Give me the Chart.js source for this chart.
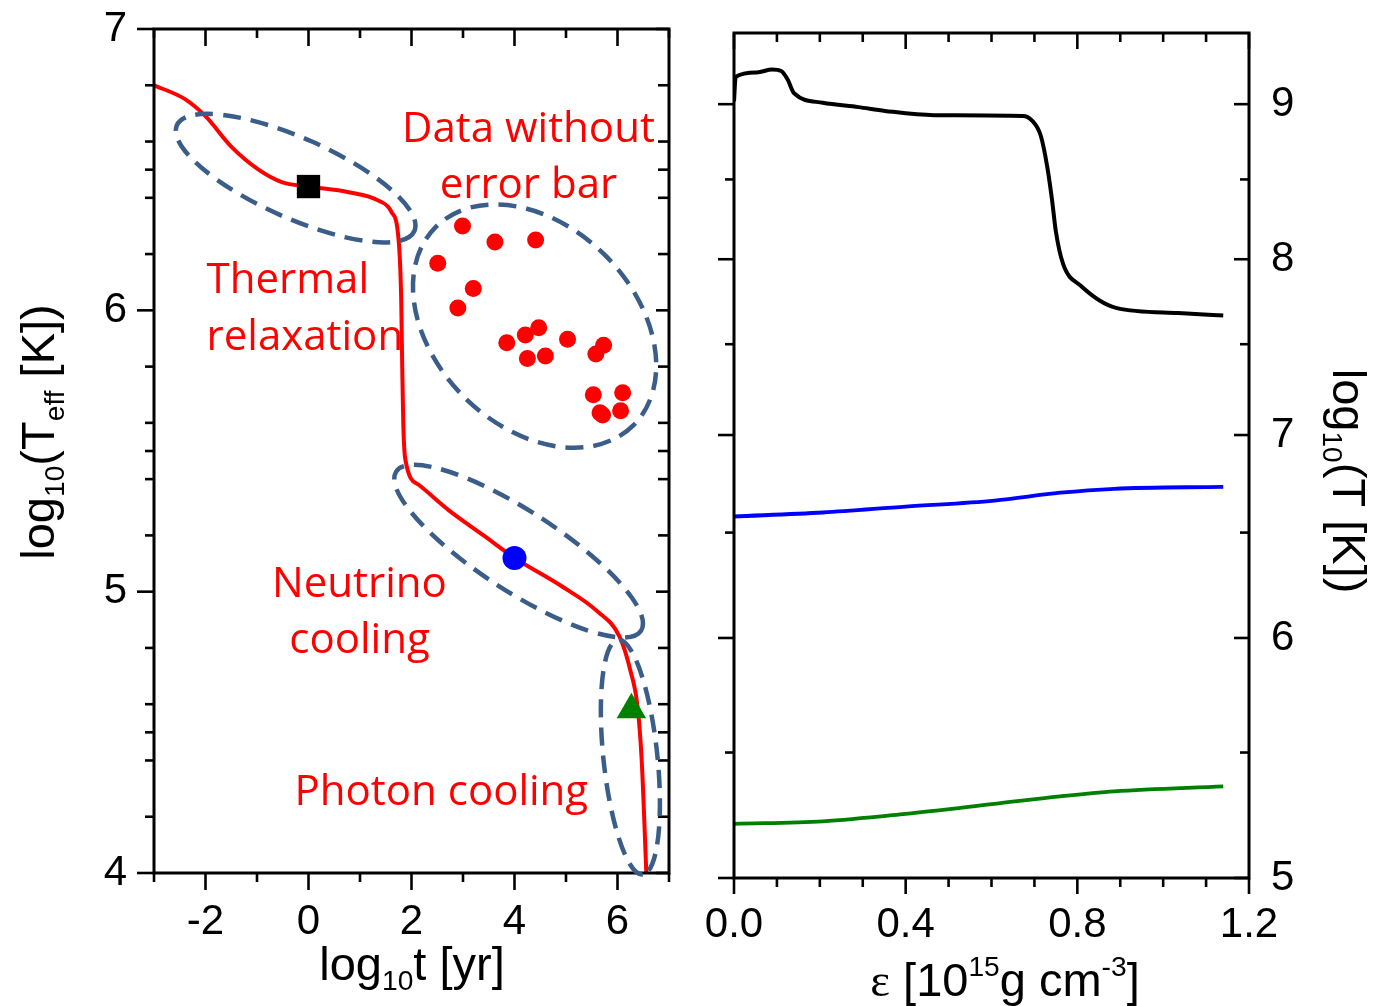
<!DOCTYPE html>
<html>
<head>
<meta charset="utf-8">
<script src="https://cdn.jsdelivr.net/npm/chart.js@4.4.1/dist/chart.umd.min.js"></script>
<style>
  html, body { margin: 0; padding: 0; background: #fff; }
  #wrap { position: relative; width: 1378px; height: 1006px; }
  canvas { position: absolute; top: 0; }
  #coolChart { left: 0; }
  #tempChart { left: 690px; }
</style>
</head>
<body>
<div id="wrap">
  <canvas id="coolChart" width="690" height="1006"></canvas>
  <canvas id="tempChart" width="688" height="1006"></canvas>
</div>
<script>
// ---------- left panel: cooling curve ----------
const curveLogT    = [-3.0, -2.39, -2.0, -1.49, -0.97, -0.52, 0.0, 0.78, 1.36, 1.61, 1.75, 1.80, 1.82, 1.84, 1.88, 2.14, 2.72, 3.4, 4.0, 4.91, 5.61, 6.04, 6.25, 6.39, 6.47, 6.56];
const curveLogTeff = [6.80, 6.75, 6.69, 6.58, 6.50, 6.456, 6.44, 6.42, 6.39, 6.35, 6.25, 6.04, 5.80, 5.60, 5.47, 5.38, 5.29, 5.20, 5.12, 5.02, 4.93, 4.84, 4.72, 4.59, 4.40, 4.00];

// observed stars (no error bars)
const obsLogT    = [2.99, 3.62, 4.41, 2.51, 3.20, 2.90, 3.85, 4.21, 4.47, 4.25, 4.60, 5.03, 5.73, 5.58, 5.53, 6.10, 5.71, 6.06, 5.66];
const obsLogTeff = [6.30, 6.243, 6.25, 6.167, 6.078, 6.008, 5.885, 5.912, 5.938, 5.829, 5.838, 5.897, 5.876, 5.845, 5.70, 5.707, 5.628, 5.643, 5.636];

// stage markers: square, circle, triangle
const markLogT    = [0.0, 4.0, 6.27];
const markLogTeff = [6.44, 5.12, 4.58];

const leftXTicks  = [-2, 0, 2, 4, 6];
const leftXMinor  = [-3, -1, 1, 3, 5, 7];
const leftYTicks  = [4, 5, 6, 7];
const leftYMinor  = [4.2, 4.4, 4.5, 4.6, 4.8, 5.2, 5.4, 5.5, 5.6, 5.8, 6.2, 6.4, 6.5, 6.6, 6.8];

// ---------- right panel: temperature profiles ----------
const epsBlack = [0.0, 0.004, 0.053, 0.089, 0.11, 0.125, 0.14, 0.207, 0.29, 0.352, 0.466, 0.673, 0.694, 0.715, 0.73, 0.741, 0.75, 0.767, 0.808, 0.89, 1.035, 1.14];
const tBlack   = [9.02, 9.19, 9.22, 9.24, 9.23, 9.17, 9.075, 9.01, 8.98, 8.954, 8.925, 8.92, 8.89, 8.785, 8.58, 8.37, 8.17, 7.97, 7.84, 7.71, 7.68, 7.665];
const epsBlue  = [0.0, 0.207, 0.4, 0.607, 0.76, 0.886, 1.14];
const tBlue    = [6.58, 6.60, 6.63, 6.66, 6.70, 6.72, 6.73];
const epsGreen = [0.0, 0.207, 0.4, 0.607, 0.76, 0.886, 1.14];
const tGreen   = [5.21, 5.22, 5.25, 5.29, 5.32, 5.34, 5.36];

const rightXTicks = [0, 0.4, 0.8, 1.2];
const rightXMinor = [0.1, 0.2, 0.3, 0.5, 0.6, 0.7, 0.9, 1.0, 1.1];
const rightYTicks = [5, 6, 7, 8, 9];
const rightYMinor = [5.5, 6.5, 7.5, 8.5];

const AXIS_FONT = "'Liberation Sans', Arial, sans-serif";
const NOTE_FONT = "'Open Sans', sans-serif";
const ELLIPSE_COLOR = "#3b5d8a";

const zip = (xs, ys) => xs.map((x, i) => ({ x, y: ys[i] }));

// label overflow must not push the plot area around
const noPad = s => { s.paddingTop = s.paddingBottom = s.paddingLeft = s.paddingRight = 0; };

/* draw a text made of runs (subscripts / superscripts) */
function drawRich(ctx, parts, x, y, size, align, angle) {
  ctx.save();
  ctx.translate(x, y);
  ctx.rotate(angle);
  ctx.textAlign = "left";
  ctx.textBaseline = "alphabetic";
  let total = 0;
  parts.forEach(p => {
    ctx.font = `${size * (p.s || 1)}px ${p.f || AXIS_FONT}`;
    p.w = ctx.measureText(p.t).width;
    total += p.w;
  });
  let cx = align === "center" ? -total / 2 : 0;
  parts.forEach(p => {
    ctx.font = `${size * (p.s || 1)}px ${p.f || AXIS_FONT}`;
    ctx.fillText(p.t, cx, (p.dy || 0) * size);
    cx += p.w;
  });
  ctx.restore();
}

/* frame + tick marks (outward on left/bottom, inward on top/right) */
function frameTicks(spec) {
  return {
    id: "frameTicks",
    afterDatasetsDraw(chart) {
      const { ctx, chartArea: a, scales: { x, y } } = chart;
      ctx.save();
      ctx.strokeStyle = "#000";
      ctx.lineWidth = 3;
      ctx.strokeRect(a.left, a.top, a.right - a.left, a.bottom - a.top);
      ctx.lineWidth = 2.6;
      const mark = (px, py, dx, dy) => {
        ctx.beginPath(); ctx.moveTo(px, py); ctx.lineTo(px + dx, py + dy); ctx.stroke();
      };
      spec.xMajor.forEach(v => {
        const p = x.getPixelForValue(v);
        mark(p, a.bottom, 0, spec.major); mark(p, a.top, 0, spec.major);
      });
      spec.xMinor.forEach(v => {
        const p = x.getPixelForValue(v);
        mark(p, a.bottom, 0, spec.minor); mark(p, a.top, 0, spec.minor);
      });
      spec.yMajor.forEach(v => {
        const p = y.getPixelForValue(v);
        mark(a.left, p, -spec.major, 0); mark(a.right, p, -spec.rightMajor, 0);
      });
      spec.yMinor.forEach(v => {
        const p = y.getPixelForValue(v);
        mark(a.left, p, -spec.minor, 0); mark(a.right, p, -spec.rightMinor, 0);
      });
      ctx.restore();
    }
  };
}

// dashed regions and labels on the cooling panel (data coordinates)
const regions = [
  { x: -0.25, y: 6.47,  rx: 130, ry: 40, rot: 24 },
  { x: 4.39,  y: 5.944, rx: 140, ry: 100, rot: 45 },
  { x: 4.08,  y: 5.144, rx: 146, ry: 40, rot: 33 },
  { x: 6.25,  y: 4.412, rx: 118, ry: 27, rot: 84 }
];
const notes = [
  { t: "Data without", x: 4.27,  y: 6.598, align: "center" },
  { t: "error bar",    x: 4.27,  y: 6.399, align: "center" },
  { t: "Thermal",      x: -1.98, y: 6.061, align: "left" },
  { t: "relaxation",   x: -1.98, y: 5.859, align: "left" },
  { t: "Neutrino",     x: 0.99,  y: 4.981, align: "center" },
  { t: "cooling",      x: 0.99,  y: 4.782, align: "center" },
  { t: "Photon cooling", x: 2.58, y: 4.241, align: "center" }
];

const coolingNotes = {
  id: "coolingNotes",
  afterDraw(chart) {
    const { ctx, scales: { x, y } } = chart;
    ctx.save();
    ctx.strokeStyle = ELLIPSE_COLOR;
    ctx.lineWidth = 4.5;
    ctx.setLineDash([18, 10]);
    regions.forEach(r => {
      ctx.beginPath();
      ctx.ellipse(x.getPixelForValue(r.x), y.getPixelForValue(r.y), r.rx, r.ry, r.rot * Math.PI / 180, 0, Math.PI * 2);
      ctx.stroke();
    });
    ctx.setLineDash([]);
    ctx.fillStyle = "#ff0000";
    ctx.font = `42px ${NOTE_FONT}`;
    ctx.textBaseline = "alphabetic";
    notes.forEach(n => {
      ctx.textAlign = n.align;
      ctx.fillText(n.t, x.getPixelForValue(n.x), y.getPixelForValue(n.y));
    });
    ctx.fillStyle = "#000";
    drawRich(ctx, [{ t: "log" }, { t: "10", s: 0.6, dy: 0.22 }, { t: "(T" }, { t: "eff", s: 0.6, dy: 0.22 }, { t: " [K])" }],
      54, 432, 47, "center", -Math.PI / 2);
    drawRich(ctx, [{ t: "log" }, { t: "10", s: 0.6, dy: 0.22 }, { t: "t [yr]" }],
      412, 980, 47, "center", 0);
    ctx.restore();
  }
};

const tempTitles = {
  id: "tempTitles",
  afterDraw(chart) {
    const { ctx } = chart;
    ctx.save();
    ctx.fillStyle = "#000";
    drawRich(ctx, [{ t: "\u03b5", f: "'Liberation Serif', serif" }, { t: " [10" }, { t: "15", s: 0.6, dy: -0.42 }, { t: "g cm" }, { t: "-3", s: 0.6, dy: -0.42 }, { t: "]" }],
      315, 996, 47, "center", 0);
    drawRich(ctx, [{ t: "log" }, { t: "10", s: 0.6, dy: 0.22 }, { t: "(T [K])" }],
      643, 481, 47, "center", Math.PI / 2);
    ctx.restore();
  }
};

const tickFont = { family: AXIS_FONT, size: 42 };

new Chart(document.getElementById("coolChart"), {
  type: "scatter",
  data: {
    datasets: [
      {
        type: "line",
        data: zip(curveLogT, curveLogTeff),
        borderColor: "#ff0000",
        borderWidth: 4,
        pointRadius: 0,
        cubicInterpolationMode: "monotone",
        fill: false,
        order: 3
      },
      {
        data: zip(obsLogT, obsLogTeff),
        backgroundColor: "#ff0000",
        borderWidth: 0,
        pointRadius: 8.5,
        order: 2
      },
      {
        data: zip(markLogT, markLogTeff),
        pointStyle: ["rect", "circle", "triangle"],
        pointRadius: [16.5, 12, 17],
        backgroundColor: ["#000000", "#0000ff", "#008000"],
        borderWidth: 0,
        order: 1
      }
    ]
  },
  options: {
    responsive: false,
    animation: false,
    devicePixelRatio: 1,
    layout: { autoPadding: false, padding: { left: 0, top: 29, right: 21, bottom: 0 } },
    plugins: { legend: { display: false }, tooltip: { enabled: false } },
    scales: {
      x: {
        type: "linear", position: "bottom", min: -3, max: 7,
        grid: { display: false, drawTicks: false },
        border: { display: false },
        ticks: { font: tickFont, color: "#000", padding: 24, maxRotation: 0, autoSkip: false },
        afterBuildTicks: s => { s.ticks = leftXTicks.map(v => ({ value: v })); },
        afterFit: s => { s.height = 133; noPad(s); }
      },
      y: {
        type: "linear", position: "left", min: 4, max: 7,
        grid: { display: false, drawTicks: false },
        border: { display: false },
        ticks: { font: tickFont, color: "#000", padding: 27, autoSkip: false },
        afterBuildTicks: s => { s.ticks = leftYTicks.map(v => ({ value: v })); },
        afterFit: s => { s.width = 154; noPad(s); }
      }
    }
  },
  plugins: [
    frameTicks({ xMajor: leftXTicks, xMinor: leftXMinor, yMajor: leftYTicks, yMinor: leftYMinor,
                 major: 17, minor: 9, rightMajor: 13, rightMinor: 11 }),
    coolingNotes
  ]
});

new Chart(document.getElementById("tempChart"), {
  type: "line",
  data: {
    datasets: [
      { data: zip(epsBlack, tBlack), borderColor: "#000000", borderWidth: 4 },
      { data: zip(epsBlue, tBlue), borderColor: "#0000ff", borderWidth: 3.8 },
      { data: zip(epsGreen, tGreen), borderColor: "#008000", borderWidth: 3.8 }
    ].map(d => Object.assign(d, { pointRadius: 0, cubicInterpolationMode: "monotone", fill: false }))
  },
  options: {
    responsive: false,
    animation: false,
    devicePixelRatio: 1,
    layout: { autoPadding: false, padding: { left: 44, top: 33, right: 0, bottom: 0 } },
    plugins: { legend: { display: false }, tooltip: { enabled: false } },
    scales: {
      x: {
        type: "linear", position: "bottom", min: 0, max: 1.2,
        grid: { display: false, drawTicks: false },
        border: { display: false },
        ticks: { font: tickFont, color: "#000", padding: 22, maxRotation: 0, autoSkip: false,
                 callback: v => Number(v).toFixed(1) },
        afterBuildTicks: s => { s.ticks = rightXTicks.map(v => ({ value: v })); },
        afterFit: s => { s.height = 128; noPad(s); }
      },
      y: {
        type: "logarithmic", position: "right", min: 5, max: 9.5,
        grid: { display: false, drawTicks: false },
        border: { display: false },
        ticks: { font: tickFont, color: "#000", padding: 22, autoSkip: false,
                 callback: v => String(v) },
        afterBuildTicks: s => { s.ticks = rightYTicks.map(v => ({ value: v })); },
        afterFit: s => { s.width = 129; noPad(s); }
      }
    }
  },
  plugins: [
    frameTicks({ xMajor: rightXTicks, xMinor: rightXMinor, yMajor: rightYTicks, yMinor: rightYMinor,
                 major: 16, minor: 9, rightMajor: 15, rightMinor: 9 }),
    tempTitles
  ]
});
</script>
</body>
</html>
